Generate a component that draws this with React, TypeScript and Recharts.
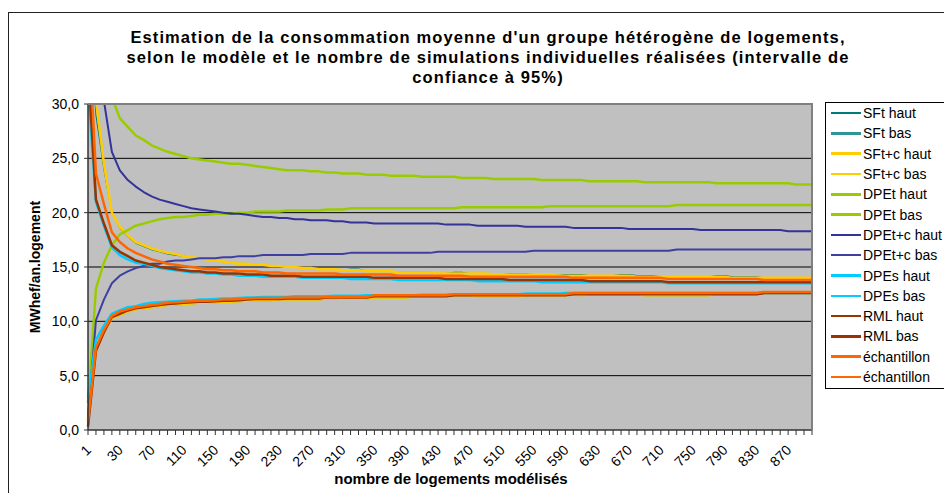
import { LineChart, Line, XAxis, YAxis, CartesianGrid } from "recharts";

// nombre de logements modélisés
const categories = [
  1, 5, 10, 20, 30, 40, 50, 60, 70, 80, 90, 100, 110, 120, 130, 140, 150, 160,
  170, 180, 190, 200, 210, 220, 230, 240, 250, 260, 270, 280, 290, 300, 310,
  320, 330, 340, 350, 360, 370, 380, 390, 400, 410, 420, 430, 440, 450, 460,
  470, 480, 490, 500, 510, 520, 530, 540, 550, 560, 570, 580, 590, 600, 610,
  620, 630, 640, 650, 660, 670, 680, 690, 700, 710, 720, 730, 740, 750, 760,
  770, 780, 790, 800, 810, 820, 830, 840, 850, 860, 870, 880, 890, 900,
];

const sftHaut = [
  40, 29.0, 24.0, 20.0, 18.6, 17.8, 17.2, 16.9, 16.6, 16.4,
  16.2, 16.1, 16.0, 15.9, 15.8, 15.7, 15.6, 15.5, 15.4, 15.3,
  15.3, 15.2, 15.2, 15.1, 15.1, 15.0, 15.0, 14.9, 14.9, 14.8,
  14.8, 14.8, 14.7, 14.8, 14.8, 14.6, 14.6, 14.6, 14.6, 14.5,
  14.5, 14.5, 14.5, 14.5, 14.4, 14.4, 14.5, 14.5, 14.4, 14.4,
  14.4, 14.3, 14.3, 14.4, 14.4, 14.4, 14.3, 14.3, 14.3, 14.2,
  14.3, 14.3, 14.3, 14.2, 14.2, 14.2, 14.2, 14.3, 14.3, 14.2,
  14.2, 14.2, 14.1, 14.1, 14.1, 14.1, 14.1, 14.1, 14.1, 14.2,
  14.2, 14.1, 14.1, 14.1, 14.1, 14.0, 14.0, 14.0, 14.0, 14.0,
  14.0, 14.0,
];

const sftBas = [
  1.5, 7.4, 9.0, 10.3, 10.6, 10.9, 11.1, 11.2, 11.3, 11.4,
  11.5, 11.55, 11.6, 11.65, 11.7, 11.7, 11.75, 11.8, 11.8, 11.85,
  11.9, 11.95, 11.95, 11.95, 12.0, 12.0, 12.0, 12.0, 12.0, 12.0,
  12.1, 12.1, 12.2, 12.2, 12.2, 12.1, 12.2, 12.2, 12.2, 12.2,
  12.2, 12.3, 12.3, 12.3, 12.3, 12.3, 12.4, 12.4, 12.4, 12.3,
  12.3, 12.3, 12.3, 12.3, 12.3, 12.4, 12.4, 12.4, 12.4, 12.4,
  12.4, 12.5, 12.4, 12.5, 12.5, 12.5, 12.5, 12.5, 12.5, 12.5,
  12.4, 12.4, 12.4, 12.4, 12.4, 12.4, 12.4, 12.4, 12.4, 12.5,
  12.5, 12.5, 12.5, 12.5, 12.5, 12.6, 12.6, 12.6, 12.6, 12.6,
  12.6, 12.6,
];

const sftcHaut = [
  45, 30.3, 24.5, 20.0, 18.7, 17.9, 17.3, 17.0, 16.7, 16.5,
  16.3, 16.2, 16.0, 15.9, 15.8, 15.7, 15.6, 15.5, 15.4, 15.3,
  15.3, 15.2, 15.2, 15.1, 15.1, 15.0, 15.0, 14.9, 14.9, 14.8,
  14.8, 14.8, 14.7, 14.7, 14.7, 14.6, 14.6, 14.6, 14.6, 14.5,
  14.5, 14.5, 14.5, 14.5, 14.4, 14.4, 14.4, 14.4, 14.4, 14.4,
  14.4, 14.3, 14.3, 14.3, 14.3, 14.3, 14.3, 14.3, 14.3, 14.2,
  14.2, 14.2, 14.2, 14.2, 14.2, 14.2, 14.2, 14.2, 14.2, 14.1,
  14.1, 14.1, 14.1, 14.1, 14.1, 14.1, 14.1, 14.1, 14.1, 14.1,
  14.1, 14.0, 14.0, 14.0, 14.0, 14.0, 14.0, 14.0, 14.0, 14.0,
  14.0, 14.0,
];

const sftcBas = [
  1.0, 7.4, 9.0, 10.3, 10.6, 10.9, 11.1, 11.2, 11.3, 11.4,
  11.5, 11.55, 11.6, 11.65, 11.7, 11.7, 11.75, 11.8, 11.8, 11.85,
  11.9, 11.95, 11.95, 11.95, 12.0, 12.0, 12.0, 12.0, 12.0, 12.0,
  12.1, 12.1, 12.2, 12.2, 12.2, 12.1, 12.2, 12.2, 12.2, 12.2,
  12.2, 12.3, 12.3, 12.3, 12.3, 12.3, 12.4, 12.4, 12.4, 12.3,
  12.3, 12.3, 12.3, 12.3, 12.3, 12.4, 12.4, 12.4, 12.4, 12.4,
  12.4, 12.5, 12.4, 12.5, 12.5, 12.5, 12.5, 12.5, 12.5, 12.5,
  12.4, 12.4, 12.4, 12.4, 12.4, 12.4, 12.4, 12.4, 12.4, 12.5,
  12.5, 12.5, 12.5, 12.5, 12.5, 12.6, 12.6, 12.6, 12.6, 12.6,
  12.6, 12.6,
];

const dpetHaut = [
  80, 48, 36, 30.6, 28.7, 27.9, 27.1, 26.7, 26.2, 25.9,
  25.6, 25.4, 25.2, 25.0, 24.9, 24.8, 24.7, 24.6, 24.5, 24.5,
  24.4, 24.3, 24.2, 24.1, 24.0, 23.9, 23.9, 23.9, 23.8, 23.8,
  23.7, 23.7, 23.6, 23.6, 23.6, 23.5, 23.5, 23.5, 23.4, 23.4,
  23.4, 23.4, 23.3, 23.3, 23.3, 23.3, 23.3, 23.2, 23.2, 23.2,
  23.2, 23.1, 23.1, 23.1, 23.1, 23.1, 23.1, 23.0, 23.0, 23.0,
  23.0, 23.0, 23.0, 22.9, 22.9, 22.9, 22.9, 22.9, 22.9, 22.9,
  22.8, 22.8, 22.8, 22.8, 22.8, 22.8, 22.8, 22.8, 22.8, 22.7,
  22.7, 22.7, 22.7, 22.7, 22.7, 22.7, 22.7, 22.7, 22.7, 22.6,
  22.6, 22.6,
];

const dpetBas = [
  2.5, 13.0, 15.4, 17.0, 18.0, 18.4, 18.8, 19.0, 19.2, 19.4,
  19.5, 19.6, 19.6, 19.7, 19.8, 19.8, 19.9, 19.9, 19.9, 20.0,
  20.0, 20.1, 20.1, 20.1, 20.1, 20.2, 20.2, 20.2, 20.2, 20.2,
  20.3, 20.3, 20.3, 20.4, 20.4, 20.4, 20.4, 20.4, 20.4, 20.4,
  20.4, 20.4, 20.4, 20.4, 20.4, 20.4, 20.4, 20.5, 20.5, 20.5,
  20.5, 20.5, 20.5, 20.5, 20.5, 20.5, 20.5, 20.5, 20.6, 20.6,
  20.6, 20.6, 20.6, 20.6, 20.6, 20.6, 20.6, 20.6, 20.6, 20.6,
  20.6, 20.6, 20.6, 20.6, 20.7, 20.7, 20.7, 20.7, 20.7, 20.7,
  20.7, 20.7, 20.7, 20.7, 20.7, 20.7, 20.7, 20.7, 20.7, 20.7,
  20.7, 20.7,
];

const dpetcHaut = [
  60, 42, 30.3, 25.6, 23.9, 23.0, 22.4, 21.9, 21.5, 21.2,
  21.0, 20.8, 20.6, 20.4, 20.3, 20.2, 20.1, 20.0, 19.9, 19.9,
  19.8, 19.7, 19.6, 19.6, 19.5, 19.5, 19.4, 19.4, 19.3, 19.3,
  19.3, 19.2, 19.2, 19.1, 19.1, 19.1, 19.0, 19.0, 19.0, 19.0,
  19.0, 19.0, 19.0, 19.0, 19.0, 18.9, 18.9, 18.9, 18.9, 18.8,
  18.8, 18.8, 18.8, 18.8, 18.8, 18.7, 18.7, 18.7, 18.7, 18.7,
  18.7, 18.6, 18.6, 18.6, 18.6, 18.6, 18.6, 18.6, 18.5, 18.5,
  18.5, 18.5, 18.5, 18.5, 18.5, 18.5, 18.5, 18.4, 18.4, 18.4,
  18.4, 18.4, 18.4, 18.4, 18.4, 18.4, 18.4, 18.4, 18.3, 18.3,
  18.3, 18.3,
];

const dpetcBas = [
  1.2, 10.1, 12.0, 13.5, 14.2, 14.6, 14.9, 15.1, 15.3, 15.3,
  15.5, 15.6, 15.6, 15.7, 15.8, 15.8, 15.8, 15.9, 15.9, 16.0,
  16.0, 16.0, 16.1, 16.1, 16.1, 16.1, 16.1, 16.1, 16.2, 16.2,
  16.2, 16.2, 16.2, 16.3, 16.3, 16.3, 16.3, 16.3, 16.3, 16.3,
  16.3, 16.3, 16.3, 16.3, 16.4, 16.4, 16.4, 16.4, 16.4, 16.4,
  16.4, 16.4, 16.4, 16.4, 16.4, 16.4, 16.5, 16.5, 16.5, 16.5,
  16.5, 16.5, 16.5, 16.5, 16.5, 16.5, 16.5, 16.5, 16.5, 16.5,
  16.5, 16.5, 16.5, 16.5, 16.6, 16.6, 16.6, 16.6, 16.6, 16.6,
  16.6, 16.6, 16.6, 16.6, 16.6, 16.6, 16.6, 16.6, 16.6, 16.6,
  16.6, 16.6,
];

const dpesHaut = [
  31.8, 21.0, 18.8, 16.8, 16.1, 15.7, 15.4, 15.3, 15.1, 14.9,
  14.8, 14.7, 14.6, 14.5, 14.5, 14.4, 14.4, 14.3, 14.3, 14.2,
  14.2, 14.2, 14.1, 14.1, 14.1, 14.1, 14.1, 14.0, 14.0, 14.0,
  14.0, 14.0, 14.0, 13.9, 13.9, 13.9, 13.9, 13.9, 13.9, 13.8,
  13.8, 13.8, 13.8, 13.8, 13.8, 13.8, 13.8, 13.8, 13.8, 13.7,
  13.7, 13.7, 13.7, 13.7, 13.7, 13.7, 13.7, 13.6, 13.6, 13.6,
  13.6, 13.6, 13.6, 13.6, 13.6, 13.6, 13.6, 13.6, 13.6, 13.6,
  13.6, 13.6, 13.6, 13.5, 13.5, 13.5, 13.5, 13.5, 13.5, 13.5,
  13.5, 13.5, 13.5, 13.5, 13.5, 13.5, 13.5, 13.5, 13.5, 13.5,
  13.5, 13.5,
];

const dpesBas = [
  3.0, 8.3, 9.6, 10.7, 11.0, 11.3, 11.4, 11.6, 11.7, 11.75,
  11.8, 11.85, 11.9, 11.9, 12.0, 12.0, 12.05, 12.1, 12.1, 12.15,
  12.2, 12.2, 12.25, 12.25, 12.25, 12.25, 12.3, 12.3, 12.3, 12.3,
  12.3, 12.35, 12.35, 12.35, 12.35, 12.4, 12.4, 12.4, 12.4, 12.4,
  12.4, 12.4, 12.45, 12.45, 12.45, 12.45, 12.5, 12.5, 12.5, 12.5,
  12.5, 12.5, 12.5, 12.5, 12.5, 12.55, 12.55, 12.55, 12.55, 12.55,
  12.6, 12.6, 12.6, 12.6, 12.6, 12.6, 12.6, 12.6, 12.6, 12.6,
  12.6, 12.6, 12.6, 12.6, 12.6, 12.6, 12.6, 12.6, 12.6, 12.6,
  12.6, 12.6, 12.6, 12.6, 12.6, 12.6, 12.6, 12.6, 12.6, 12.6,
  12.6, 12.6,
];

const rmlHaut = [
  33.6, 21.2, 19.0, 17.0, 16.4, 16.0, 15.6, 15.4, 15.2, 15.0,
  14.9, 14.8, 14.7, 14.6, 14.6, 14.5, 14.5, 14.4, 14.4, 14.4,
  14.3, 14.3, 14.3, 14.2, 14.2, 14.2, 14.2, 14.1, 14.1, 14.1,
  14.1, 14.1, 14.1, 14.1, 14.1, 14.1, 14.0, 14.0, 14.0, 14.0,
  14.0, 14.0, 14.0, 14.0, 14.0, 13.9, 13.9, 13.9, 13.9, 13.9,
  13.9, 13.9, 13.9, 13.8, 13.8, 13.8, 13.8, 13.8, 13.8, 13.8,
  13.8, 13.8, 13.8, 13.7, 13.7, 13.7, 13.7, 13.7, 13.7, 13.7,
  13.7, 13.7, 13.7, 13.6, 13.6, 13.6, 13.6, 13.6, 13.6, 13.6,
  13.6, 13.6, 13.6, 13.6, 13.6, 13.6, 13.6, 13.6, 13.6, 13.6,
  13.6, 13.6,
];

const rmlBas = [
  0.3, 7.3, 9.0, 10.4, 10.7, 11.0, 11.2, 11.3, 11.4, 11.5,
  11.6, 11.65, 11.7, 11.75, 11.8, 11.8, 11.85, 11.9, 11.9, 11.95,
  12.0, 12.05, 12.05, 12.05, 12.05, 12.1, 12.1, 12.1, 12.1, 12.1,
  12.2, 12.2, 12.2, 12.2, 12.2, 12.2, 12.3, 12.3, 12.3, 12.3,
  12.3, 12.3, 12.3, 12.3, 12.3, 12.3, 12.4, 12.4, 12.4, 12.4,
  12.4, 12.4, 12.4, 12.4, 12.4, 12.4, 12.4, 12.4, 12.4, 12.4,
  12.4, 12.5, 12.5, 12.5, 12.5, 12.5, 12.5, 12.5, 12.5, 12.5,
  12.5, 12.5, 12.5, 12.5, 12.5, 12.5, 12.5, 12.5, 12.5, 12.5,
  12.5, 12.5, 12.5, 12.5, 12.5, 12.6, 12.6, 12.6, 12.6, 12.6,
  12.6, 12.6,
];

const echantHaut = [
  38, 23.6, 20.8, 18.2, 17.3, 16.7, 16.3, 16.0, 15.7, 15.5,
  15.3, 15.2, 15.1, 15.0, 14.9, 14.8, 14.8, 14.7, 14.7, 14.6,
  14.6, 14.6, 14.5, 14.5, 14.5, 14.4, 14.4, 14.4, 14.4, 14.4,
  14.4, 14.4, 14.3, 14.3, 14.3, 14.3, 14.3, 14.3, 14.3, 14.2,
  14.2, 14.2, 14.2, 14.2, 14.2, 14.2, 14.2, 14.2, 14.1, 14.1,
  14.1, 14.1, 14.1, 14.1, 14.1, 14.1, 14.1, 14.1, 14.1, 14.1,
  14.1, 14.0, 14.0, 14.0, 14.0, 14.0, 14.0, 14.0, 14.0, 14.0,
  14.0, 14.0, 14.0, 13.9, 13.9, 13.9, 13.9, 13.9, 13.9, 13.9,
  13.9, 13.9, 13.9, 13.9, 13.9, 13.8, 13.8, 13.8, 13.8, 13.8,
  13.8, 13.8,
];

const echantBas = [
  0.8, 7.6, 9.2, 10.5, 10.9, 11.1, 11.3, 11.4, 11.5, 11.6,
  11.7, 11.75, 11.8, 11.85, 11.9, 11.9, 11.95, 12.0, 12.0, 12.05,
  12.1, 12.15, 12.15, 12.15, 12.15, 12.2, 12.2, 12.2, 12.2, 12.2,
  12.25, 12.25, 12.25, 12.25, 12.25, 12.25, 12.4, 12.4, 12.4, 12.4,
  12.4, 12.4, 12.4, 12.4, 12.4, 12.4, 12.5, 12.5, 12.5, 12.5,
  12.5, 12.5, 12.5, 12.5, 12.5, 12.5, 12.5, 12.5, 12.5, 12.5,
  12.5, 12.6, 12.6, 12.6, 12.6, 12.6, 12.6, 12.6, 12.6, 12.6,
  12.6, 12.6, 12.6, 12.6, 12.6, 12.6, 12.6, 12.6, 12.6, 12.6,
  12.6, 12.6, 12.6, 12.6, 12.6, 12.7, 12.7, 12.7, 12.7, 12.7,
  12.7, 12.7,
];

const yTicks = [0, 5, 10, 15, 20, 25, 30];

const titleLines = [
  "Estimation de la consommation moyenne d'un groupe hétérogène de logements,",
  "selon le modèle et le nombre de simulations individuelles réalisées (intervalle de",
  "confiance à 95%)",
];

const series = [
  { key: "sftHaut", name: "SFt haut", color: "#007B7B", width: 1.2, values: sftHaut },
  { key: "sftBas", name: "SFt bas", color: "#2E9696", width: 2, values: sftBas },
  { key: "sftcHaut", name: "SFt+c haut", color: "#FFCC00", width: 2.5, values: sftcHaut },
  { key: "sftcBas", name: "SFt+c bas", color: "#FFCC00", width: 2.5, values: sftcBas },
  { key: "dpetHaut", name: "DPEt haut", color: "#99CC00", width: 2.5, values: dpetHaut },
  { key: "dpetBas", name: "DPEt bas", color: "#99CC00", width: 2.5, values: dpetBas },
  { key: "dpetcHaut", name: "DPEt+c haut", color: "#333399", width: 2, values: dpetcHaut },
  { key: "dpetcBas", name: "DPEt+c bas", color: "#3F3FA0", width: 2, values: dpetcBas },
  { key: "dpesHaut", name: "DPEs haut", color: "#00CCFF", width: 2.5, values: dpesHaut },
  { key: "dpesBas", name: "DPEs bas", color: "#00CCFF", width: 2.5, values: dpesBas },
  { key: "rmlHaut", name: "RML haut", color: "#993300", width: 2.5, values: rmlHaut },
  { key: "rmlBas", name: "RML bas", color: "#993300", width: 2.5, values: rmlBas },
  { key: "echantHaut", name: "échantillon", color: "#FF6600", width: 2.5, values: echantHaut },
  { key: "echantBas", name: "échantillon", color: "#FF6600", width: 2.5, values: echantBas },
];

const data = categories.map((n, i) => {
  const row: Record<string, number> = { n };
  series.forEach((s) => {
    row[s.key] = s.values[i];
  });
  return row;
});

const FONT = "'Liberation Sans', Arial, sans-serif";

export default function App() {
  return (
    <div
      style={{
        position: "fixed",
        left: 0,
        top: 0,
        width: 944,
        height: 493,
        overflow: "hidden",
        background: "#fff",
        fontFamily: FONT,
      }}
    >
      {/* chart frame, cropped on the right and bottom */}
      <div
        style={{
          position: "absolute",
          left: 8,
          top: 12,
          width: 1000,
          height: 600,
          border: "1px solid #222",
        }}
      />

      {titleLines.map((t, i) => (
        <div
          key={i}
          style={{
            position: "absolute",
            left: 88,
            top: 27 + i * 20,
            width: 800,
            lineHeight: "20px",
            fontSize: 16.5,
            letterSpacing: 1.1,
            fontWeight: "bold",
            textAlign: "center",
            whiteSpace: "nowrap",
          }}
        >
          {t}
        </div>
      ))}

      <div style={{ position: "absolute", left: 0, top: 0 }}>
        <LineChart
          width={944}
          height={493}
          data={data}
          margin={{ top: 104, right: 132, bottom: 13, left: 0 }}
        >
          <CartesianGrid
            vertical={false}
            horizontalValues={[5, 10, 15, 20, 25]}
            stroke="#000"
            strokeWidth={1}
            fill="#C0C0C0"
            fillOpacity={1}
          />
          <XAxis
            dataKey="n"
            type="category"
            interval={0}
            height={50}
            tickSize={5}
            tickMargin={2}
            angle={-45}
            textAnchor="end"
            tickFormatter={(v: number, i: number) => (i % 4 === 0 ? String(v) : "")}
            tick={{ fill: "#000", fontSize: 14, fontFamily: FONT, dx: -3, dy: 7 }}
            tickLine={{ stroke: "#333" }}
            axisLine={{ stroke: "#333", strokeWidth: 1.5 }}
          />
          <YAxis
            width={88}
            domain={[0, 30]}
            ticks={yTicks}
            interval={0}
            allowDataOverflow
            tickSize={4}
            tickMargin={5}
            tickFormatter={(v: number) => v.toFixed(1).replace(".", ",")}
            tick={{ fill: "#000", fontSize: 14, fontFamily: FONT }}
            tickLine={{ stroke: "#333" }}
            axisLine={{ stroke: "#333", strokeWidth: 1.5 }}
          />
          {series.map((s) => (
            <Line
              key={s.key}
              type="linear"
              dataKey={s.key}
              name={s.name}
              stroke={s.color}
              strokeWidth={s.width}
              strokeLinejoin="round"
              dot={false}
              activeDot={false}
              isAnimationActive={false}
            />
          ))}
        </LineChart>
      </div>

      {/* plot area border (top and right) */}
      <div style={{ position: "absolute", left: 88, top: 103, width: 725, height: 1.5, background: "#808080" }} />
      <div style={{ position: "absolute", left: 811, top: 103, width: 1.5, height: 327, background: "#808080" }} />

      {/* axis titles */}
      <div
        style={{
          position: "absolute",
          left: 35 - 100,
          top: 267 - 10,
          width: 200,
          lineHeight: "20px",
          fontSize: 14,
          fontWeight: "bold",
          textAlign: "center",
          transform: "rotate(-90deg)",
          whiteSpace: "nowrap",
        }}
      >
        MWhef/an.logement
      </div>
      <div
        style={{
          position: "absolute",
          left: 251,
          top: 470,
          width: 400,
          lineHeight: "18px",
          fontSize: 15,
          fontWeight: "bold",
          textAlign: "center",
          whiteSpace: "nowrap",
        }}
      >
        nombre de logements modélisés
      </div>

      {/* legend */}
      <div
        style={{
          position: "absolute",
          left: 825,
          top: 102,
          width: 150,
          height: 285,
          border: "1px solid #000",
          background: "#fff",
        }}
      >
        {series.map((s) => (
          <div
            key={s.key}
            style={{
              height: 20.3,
              display: "flex",
              alignItems: "center",
              whiteSpace: "nowrap",
              fontSize: 14,
            }}
          >
            <span
              style={{
                display: "inline-block",
                marginLeft: 5,
                width: 30,
                height: 2.5,
                background: s.color,
                marginRight: 2,
              }}
            />
            {s.name}
          </div>
        ))}
      </div>
    </div>
  );
}
